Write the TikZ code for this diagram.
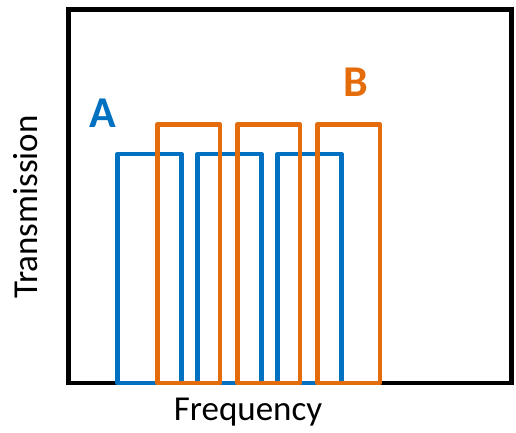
\documentclass[tikz,border=0pt]{standalone}
\usepackage{fontspec}
\setmainfont{Carlito}
\usepackage{xcolor}
\definecolor{bandblue}{RGB}{0,112,192}
\definecolor{bandorange}{RGB}{228,108,10}
\tikzset{
framebox/.style={draw=black,line width=4.5pt},
bluepass/.style={draw=bandblue,line width=4.5pt,line join=round},
orangepass/.style={draw=bandorange,line width=4.5pt,line join=round},
axislabel/.style={inner sep=0pt,anchor=base,font=\fontsize{35}{42}\selectfont},
filterlabel/.style={inner sep=0pt,font=\fontsize{44}{52}\selectfont\bfseries},
}

\begin{document}
\begin{tikzpicture}[x=1pt,y=-1pt]
    \useasboundingbox (0,0) rectangle (516,432);
    \draw[framebox] (68.5,9.5) rectangle (511.5,383);
    \foreach \xa in {117.5,197.5,277.5}
     \draw[bluepass] (\xa,383) rectangle ++(64,-229);
    \foreach \xa in {157.5,237.5,317.5}
     \draw[orangepass] (\xa,383) rectangle ++(62.5,-258.5);
    \node[filterlabel,text=bandblue] at (103,113) (labelA) {A};
    \node[filterlabel,text=bandorange] at (356,82) (labelB) {B};
    \node[axislabel] at (248,420) (freq) {Frequency};
    \node[axislabel,rotate=90] at (37,207) (trans) {Transmission};
\end{tikzpicture}
\end{document}
